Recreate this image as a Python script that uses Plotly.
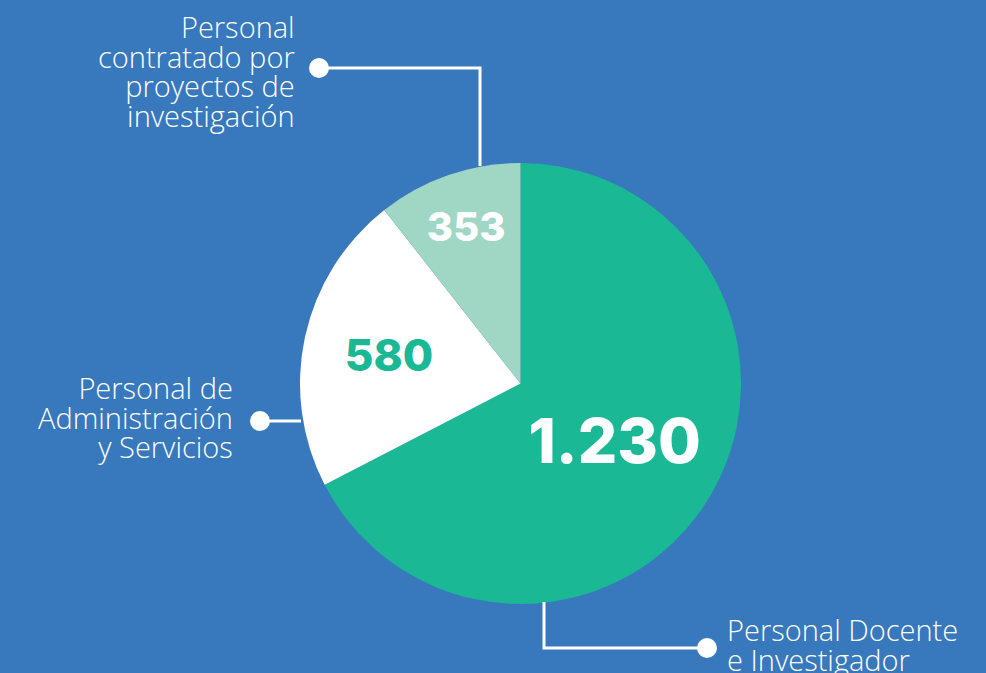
import plotly.graph_objects as go

categories = ["Personal Docente\ne Investigador", "Personal de\nAdministración\ny Servicios", "Personal\ncontratado por\nproyectos de\ninvestigación"]
values = [1230, 580, 353]
value_labels = ["1.230", "580", "353"]
# slice sizes as drawn in the reference (angles, in %)
slice_shares = [67.4, 22.0, 10.6]

BG = "#3878bd"
TEAL = "#1bb896"
LIGHT = "#a0d6c4"
WHITE = "#ffffff"

W, H = 986, 673

fig = go.Figure()
fig.add_trace(go.Pie(
    values=slice_shares,
    labels=[c.replace("\n", " ") for c in categories],
    text=value_labels,
    customdata=values,
    textinfo="text",
    textposition="inside",
    insidetextorientation="horizontal",
    sort=False,
    direction="clockwise",
    rotation=0,
    marker=dict(colors=[TEAL, WHITE, LIGHT], line=dict(width=0)),
    textfont=dict(family="Inter", color=[WHITE, TEAL, WHITE], size=[62, 44, 40], weight=800),
    domain=dict(x=[300 / W, 741 / W], y=[1 - 604 / H, 1 - 163 / H]),
    hoverinfo="skip",
    showlegend=False,
))

def px(x):
    return x / W

def py(y):
    return 1 - y / H

shapes = []
line = dict(color=WHITE, width=3)
shapes.append(dict(type="path", xref="paper", yref="paper",
                   path=f"M {px(319)} {py(68)} L {px(480)} {py(68)} L {px(480)} {py(166)}", line=line))
shapes.append(dict(type="line", xref="paper", yref="paper", x0=px(260), y0=py(421), x1=px(301), y1=py(421), line=line))
shapes.append(dict(type="path", xref="paper", yref="paper",
                   path=f"M {px(544)} {py(602)} L {px(544)} {py(648)} L {px(707)} {py(648)}", line=line))
for (cx, cy) in [(319, 68), (260, 421), (707, 648)]:
    r = 10
    shapes.append(dict(type="circle", xref="paper", yref="paper",
                       x0=px(cx - r), x1=px(cx + r), y0=py(cy + r), y1=py(cy - r),
                       fillcolor=WHITE, line=dict(width=0)))

# line spacing follows the annotation font size (1.3 em of 22.7px ~ 29.5px), glyphs drawn at 29px
lab_font = dict(family="Open Sans", size=22.7, color=WHITE, weight=300)
annotations = []
# (category index, anchor x, top y, x anchor, y anchor)
placements = [(2, 296, 6, "right", "top"), (1, 234, 367, "right", "top"), (0, 726, 609, "left", "top")]
for idx, ax, ty, xa, ya in placements:
    txt = "<br>".join(f'<span style="font-size:29px">{t}</span>' for t in categories[idx].split("\n"))
    annotations.append(dict(
        x=px(ax), y=py(ty), text=txt, xanchor=xa, yanchor=ya, align=xa,
        xref="paper", yref="paper", showarrow=False, font=lab_font, borderpad=0,
    ))

fig.update_layout(
    width=W, height=H,
    paper_bgcolor=BG, plot_bgcolor=BG,
    margin=dict(l=0, r=0, t=0, b=0),
    shapes=shapes,
    annotations=annotations,
    showlegend=False,
)

fig.write_html("out.html", config={"displayModeBar": False},
               post_script="document.body.style.margin='0';document.body.style.background='" + BG + "';")
